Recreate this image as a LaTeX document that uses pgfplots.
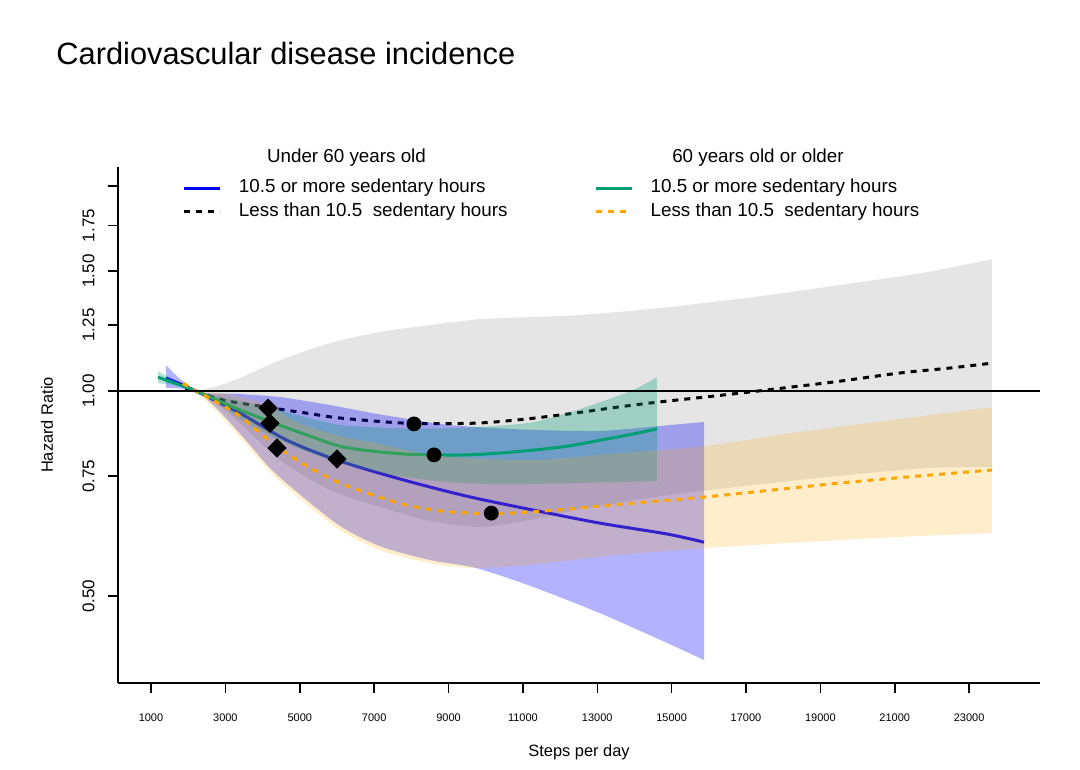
\documentclass[border=0pt]{standalone}
\usepackage{fontspec}
\setmainfont{Liberation Sans}
\usepackage{pgfplots}
\pgfplotsset{compat=1.18}
\usepgfplotslibrary{fillbetween}

\definecolor{cvblue}{RGB}{0,0,255}
\definecolor{cvgreen}{RGB}{0,158,115}
\definecolor{cvorange}{RGB}{255,165,0}
\definecolor{cvgray}{RGB}{229,229,229}

\newcommand{\legfont}{\fontsize{9.4bp}{11bp}\selectfont}

\tikzset{
  blueline/.style={cvblue, line width=1.5bp},
  blackline/.style={black, line width=1.5bp, dash pattern=on 3bp off 3bp},
  greenline/.style={cvgreen, line width=1.5bp},
  orangeline/.style={cvorange, line width=1.5bp, dash pattern=on 3bp off 3bp},
}
\pgfplotsset{
  leg/.style={
    legend image code/.code={\draw[##1] (0bp,0bp) -- (18bp,0bp);},
    legend cell align=left,
    legend style={draw=none, fill=none, inner sep=0pt, outer sep=0pt,
      anchor=north west, font=\legfont, row sep=0pt,
      nodes={inner sep=0pt, text height=8bp, text depth=3.75bp},
      /tikz/every odd column/.append style={column sep=8.5bp}},
  },
  edge/.style={draw=none, smooth, tension=0.45, forget plot},
}

\begin{document}
\begin{tikzpicture}
\begin{axis}[
  scale only axis, width=461bp, height=258bp,
  ymode=log,
  xmin=112.6, xmax=24905, ymin=0.3729, ymax=2.1323,
  axis lines*=left, axis line style={line width=0.75bp},
  tick align=outside, major tick length=5bp,
  tick style={black, line width=0.75bp},
  scaled x ticks=false,
  xtick={1000,3000,5000,7000,9000,11000,13000,15000,17000,19000,21000,23000},
  xticklabels={1000,3000,5000,7000,9000,11000,13000,15000,17000,19000,21000,23000},
  xticklabel style={font=\fontsize{5.5bp}{6bp}\selectfont, anchor=center, yshift=-12.5bp},
  ytick={0.5,0.75,1,1.25,1.5,1.75,2},
  yticklabels={0.50,0.75,1.00,1.25,1.50,1.75,{}},
  yticklabel style={font=\fontsize{8.5bp}{9bp}\selectfont, xshift=-6.5bp, rotate=90, anchor=south, inner sep=0pt},
  xlabel={Steps per day}, ylabel={Hazard Ratio},
  every axis x label/.style={at={(rel axis cs:0.5,-0.1337)}, anchor=center, font=\fontsize{8.2bp}{9bp}\selectfont},
  every axis y label/.style={at={(rel axis cs:-0.077,0.5)}, rotate=90, anchor=center, font=\fontsize{8.2bp}{9bp}\selectfont},
  clip=false,
  leg,
  legend style={at={(0.0705,0.9812)}},
]
% grey band: under 60, less than 10.5 h
\addplot[edge, name path=gu] coordinates {
  (1914,1.014) (2210,1.000) (3124,1.031) (4469,1.110) (5813,1.176) (7158,1.221)
  (8502,1.250) (9847,1.275) (11191,1.284) (12536,1.293) (14687,1.324) (17376,1.378)
  (20065,1.445) (21867,1.495) (23614,1.562)};
\addplot[edge, name path=gl] coordinates {
  (1914,1.000) (2210,1.000) (3124,0.925) (4469,0.792) (5813,0.716) (7158,0.676)
  (8502,0.645) (9847,0.632) (11191,0.647) (12536,0.671) (14687,0.701) (17376,0.730)
  (20065,0.756) (21867,0.771) (23614,0.774)};
\addplot[fill=cvgray, draw=none, forget plot] fill between[of=gu and gl, on layer=main];
\addplot[blackline, smooth, forget plot] coordinates {
  (1914,1.007) (2210,1.000) (2936,0.970) (4281,0.944) (5195,0.928) (6082,0.913)
  (7884,0.897) (9659,0.897) (10842,0.907) (12186,0.925) (13531,0.947) (14606,0.963)
  (15897,0.980) (17107,0.997) (18640,1.020) (19527,1.034) (21140,1.063) (22485,1.081)
  (23614,1.099)};
\addplot[only marks, black, mark=square*, mark size=3.2bp, mark options={rotate=45}, forget plot] coordinates {(4150,0.944)};
\addplot[only marks, black, mark=*, mark size=3.5bp, forget plot] coordinates {(8070,0.895)};
% under 60, 10.5 h or more
\addplot[blueline, smooth, forget plot] coordinates {
  (1403,1.045) (2210,1.000) (3393,0.928) (4657,0.847) (6002,0.792) (7696,0.743)
  (9497,0.701) (11272,0.669) (13074,0.640) (14875,0.617) (15870,0.600)};
\addplot[only marks, black, mark=square*, mark size=3.2bp, mark options={rotate=45}, forget plot] coordinates {(6000,0.795)};
\addplot[edge, name path=bu] coordinates {
  (1403,1.092) (2210,1.000) (3393,0.990) (4469,0.980) (5813,0.954) (6970,0.928)
  (8771,0.895) (9847,0.885) (11272,0.877) (13074,0.874) (14606,0.888) (15870,0.901)};
\addplot[edge, name path=bl] coordinates {
  (1403,1.010) (2210,1.000) (2855,0.932) (3501,0.853) (4200,0.771) (4953,0.709)
  (6082,0.634) (7158,0.592) (8502,0.565) (9739,0.550) (11272,0.516) (13074,0.472)
  (14875,0.427) (15870,0.403)};
\addplot[fill=cvblue, fill opacity=0.3, draw=none, forget plot] fill between[of=bu and bl, on layer=main];
% 60 or older, 10.5 h or more
\addplot[edge, name path=ru] coordinates {
  (1188,1.070) (2210,1.000) (3662,0.960) (4738,0.928) (6082,0.892) (7696,0.882)
  (9040,0.882) (10385,0.890) (11272,0.900) (12186,0.928) (13074,0.963) (13961,1.003)
  (14606,1.048)};
\addplot[edge, name path=rl] coordinates {
  (1188,1.027) (2210,1.000) (3662,0.892) (4738,0.833) (6082,0.784) (7696,0.750)
  (9040,0.735) (10385,0.730) (12536,0.733) (14606,0.738)};
\addplot[fill=cvgreen, fill opacity=0.3, draw=none, forget plot] fill between[of=ru and rl, on layer=main];
\addplot[greenline, smooth, forget plot] coordinates {
  (1188,1.048) (2210,1.000) (3393,0.938) (4227,0.901) (5195,0.862) (6082,0.830)
  (6970,0.816) (7884,0.808) (8610,0.806) (9497,0.806) (10385,0.811) (11272,0.819)
  (12186,0.830) (13074,0.847) (13961,0.865) (14606,0.880)};
\addplot[only marks, black, mark=square*, mark size=3.2bp, mark options={rotate=45}, forget plot] coordinates {(4200,0.897)};
\addplot[only marks, black, mark=*, mark size=3.5bp, forget plot] coordinates {(8610,0.806)};
% 60 or older, less than 10.5 h
\addplot[edge, name path=ou] coordinates {
  (1860,1.041) (2210,1.000) (2855,0.993) (3501,0.977) (4200,0.951) (4953,0.898)
  (6082,0.859) (7158,0.836) (8502,0.806) (9739,0.797) (11380,0.792) (13316,0.808)
  (15870,0.830) (18452,0.871) (21140,0.910) (23614,0.947)};
\addplot[edge, name path=ol] coordinates {
  (1860,1.014) (2210,1.000) (2855,0.922) (3501,0.842) (4200,0.761) (4953,0.699)
  (6082,0.625) (7158,0.584) (8502,0.559) (9739,0.550) (11380,0.557) (13316,0.573)
  (15870,0.588) (18452,0.600) (21140,0.611) (23614,0.619)};
\addplot[fill=cvorange, fill opacity=0.2, draw=none, forget plot] fill between[of=ou and ol, on layer=main];
\addplot[orangeline, smooth, forget plot] coordinates {
  (1860,1.027) (2210,1.000) (2855,0.957) (3393,0.919) (3931,0.868) (4388,0.828)
  (5195,0.776) (6082,0.733) (6970,0.704) (7884,0.680) (8771,0.667) (9659,0.662)
  (10170,0.660) (11272,0.665) (12186,0.671) (13074,0.678) (14284,0.687) (15897,0.699)
  (17726,0.716) (19527,0.733) (21329,0.748) (23614,0.766)};
\addplot[only marks, black, mark=square*, mark size=3.2bp, mark options={rotate=45}, forget plot] coordinates {(4390,0.825)};
\addplot[only marks, black, mark=*, mark size=3.5bp, forget plot] coordinates {(10150,0.662)};
% reference line
\addplot[black, line width=0.75bp, forget plot] coordinates {(112.6,1) (24905,1)};

\addlegendimage{blueline}
\addlegendentry{10.5 or more sedentary hours}
\addlegendimage{blackline}
\addlegendentry{Less than 10.5\ \ sedentary hours}

\node[anchor=base west, inner sep=0pt, font=\fontsize{15.4bp}{18bp}\selectfont] at (rel axis cs:-0.0672,1.1977) {Cardiovascular disease incidence};
\node[anchor=base, font=\legfont] at (rel axis cs:0.2478,1.0078) {Under 60 years old};
\node[anchor=base, font=\legfont] at (rel axis cs:0.6941,1.0078) {60 years old or older};
\end{axis}
\begin{axis}[
  scale only axis, width=461bp, height=258bp,
  hide axis, xmin=0, xmax=1, ymin=0, ymax=1,
  leg,
  legend style={at={(0.517,0.9812)}},
]
\addlegendimage{greenline}
\addlegendentry{10.5 or more sedentary hours}
\addlegendimage{orangeline}
\addlegendentry{Less than 10.5\ \ sedentary hours}
\end{axis}
\pgfresetboundingbox
\path (-59bp,-43.5bp) rectangle (481bp,341.5bp);
\end{tikzpicture}
\end{document}
